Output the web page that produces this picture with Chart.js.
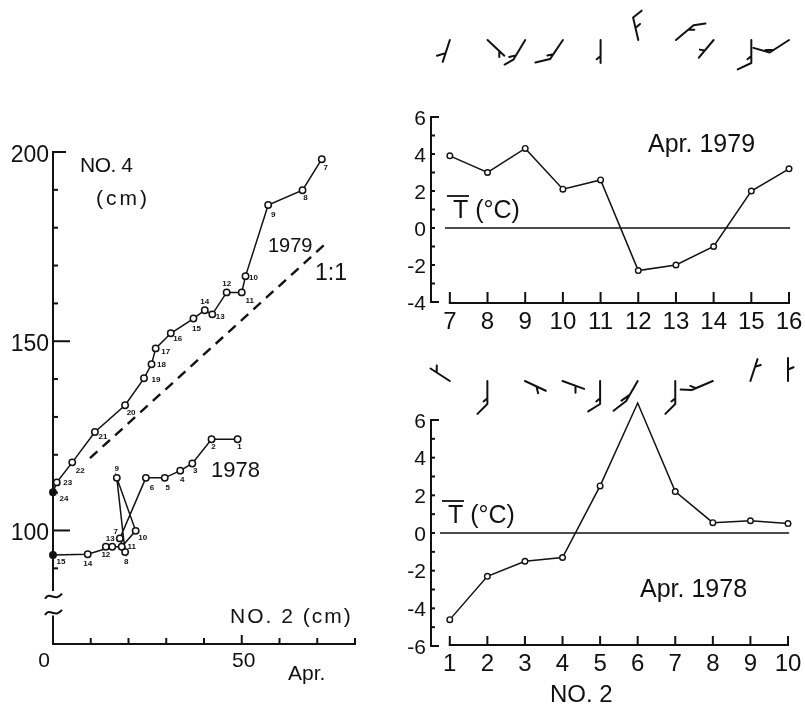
<!DOCTYPE html>
<html>
<head>
<meta charset="utf-8">
<script src="https://cdn.jsdelivr.net/npm/chart.js@4.4.1/dist/chart.umd.min.js"></script>
<style>
body{margin:0;background:#fff;}
#wrap{position:relative;width:805px;height:705px;}
#wrap canvas{position:absolute;left:0;top:0;}
</style>
</head>
<body>
<div id="wrap">
<canvas id="snow" width="805" height="705"></canvas>
<canvas id="t1979" width="805" height="705"></canvas>
<canvas id="t1978" width="805" height="705"></canvas>
</div>
<script>
// snow depth at NO.2 vs NO.4 (cm), points labelled by April day
const days1979 = [7,8,9,10,11,12,13,14,15,16,17,18,19,20,21,22,23,24];
const no2_1979 = [71.2,66.1,57.0,51.0,50.0,46.0,42.2,40.2,37.2,31.2,27.2,26.1,24.1,19.1,11.1,5.1,1.0,0];
const no4_1979 = [198.1,189.9,186.0,167.2,162.9,162.9,157.1,158.2,156.0,152.1,148.1,143.9,140.2,133.1,126.0,118.0,112.7,110.1];

const days1978 = [1,2,3,4,5,6,7,8,9,10,11,12,13,14,15];
const no2_1978 = [48.9,42.0,36.9,33.7,29.6,24.6,17.7,19.1,16.9,21.9,18.2,14.0,15.7,9.2,0];
const no4_1978 = [124.1,124.1,117.7,115.8,113.9,113.9,97.9,94.3,113.9,99.9,95.7,95.7,95.7,93.7,93.5];

const oneToOneX = [9.8, 72.8];
const oneToOneY = [119.1, 176.3];

const snowXLabels = [0, 50];
const snowYLabels = [100, 150, 200];

// daily mean air temperature (deg C)
const tDays1979 = [7,8,9,10,11,12,13,14,15,16];
const tMean1979 = [3.9,3.0,4.3,2.1,2.6,-2.3,-2.0,-1.0,2.0,3.2];
const tDays1978 = [1,2,3,4,5,6,7,8,9,10];
const tMean1978 = [-4.6,-2.3,-1.5,-1.3,2.5,6.9,2.2,0.55,0.65,0.5];
const tTicks1979 = [-4,-2,0,2,4,6];
const tTicks1978 = [-6,-4,-2,0,2,4,6];

// wind barbs per day: shaft angle (deg), and feathers [pos along shaft, length, turn]
const windAngle1979 = [108,43,121,124,90,-103,-40,130,90,147];
const windFeathers1979 = [
  [[0.6,9,55]], [[0.7,6,47]], [[1,10,30],[0.78,7,45]], [[1,15,43],[0.75,6,45]],
  [[0.7,5,50]], [[1,11,64],[0.54,6,62]], [[1,12,32],[0.7,6,40]], [[0.6,5,61]],
  [[1,15,65],[0.7,5,50]], [[1,17,49],[0.8,8,33]]
];
const windAngle1978 = [-147,90,25,20,90,120,90,157,-72,-90];
const windFeathers1978 = [
  [[0.68,7,58]], [[1,14,45],[0.75,5,50]], [[0.55,7,51]], [[0.6,7,70]],
  [[1,14,58],[0.75,5,50]], [[1,16,22],[0.7,10,25]], [[1,14,45],[0.75,5,50]],
  [[1,11,25],[0.8,6,45]], [[0.65,6,55]], [[0.5,6,68]]
];

// label placement next to points (px)
const labelOff1979 = [[4,9],[3,8],[5,10],[8,2],[8,8],[0,-9],[8,2],[0,-8],[3,10],[7,6],[10,3],[10,0],[12,1],[6,8],[8,5],[8,8],[11,0],[11,7]];
const labelOff1978 = [[2,8],[2,8],[3,7],[2,9],[3,10],[6,10],[-4,-7],[1,10],[0,-9],[7,7],[10,0],[0,8],[-2,-8],[0,9],[8,7]];

const FONT = '"Liberation Sans", Arial, sans-serif';
const INK = '#111';

function text(ctx, s, x, y, size, align, spacing, weight) {
  ctx.font = (weight ? weight + ' ' : '') + size + 'px ' + FONT;
  ctx.textAlign = align || 'left';
  ctx.textBaseline = 'alphabetic';
  ctx.letterSpacing = (spacing || 0) + 'px';
  ctx.fillStyle = INK;
  ctx.fillText(s, x, y);
  ctx.letterSpacing = '0px';
}
function seg(ctx, x1, y1, x2, y2) {
  ctx.beginPath(); ctx.moveTo(x1, y1); ctx.lineTo(x2, y2); ctx.stroke();
}
function barb(ctx, x0, y0, ang, feathers) {
  const len = 23;
  const a = ang * Math.PI / 180, ux = Math.cos(a), uy = Math.sin(a);
  ctx.beginPath();
  ctx.moveTo(x0, y0); ctx.lineTo(x0 + ux * len, y0 + uy * len);
  feathers.forEach(f => {
    const bx = x0 + ux * len * f[0], by = y0 + uy * len * f[0];
    const b = a + f[2] * Math.PI / 180;
    ctx.moveTo(bx, by); ctx.lineTo(bx + Math.cos(b) * f[1], by + Math.sin(b) * f[1]);
  });
  ctx.stroke();
}
function pts(xs, ys) { return xs.map((x, i) => ({x: x, y: ys[i]})); }

// ---------------- left: NO.4 vs NO.2 ----------------
const snowPlugin = {
  id: 'snowAxes',
  afterDraw(chart) {
    const ctx = chart.ctx, xs = chart.scales.x, ys = chart.scales.y;
    const x0 = xs.getPixelForValue(0), yb = ys.getPixelForValue(70);
    ctx.save();
    ctx.strokeStyle = INK; ctx.lineWidth = 2;
    // y axis with a break below 90
    seg(ctx, x0, ys.getPixelForValue(200) - 1, x0, ys.getPixelForValue(84));
    seg(ctx, x0, ys.getPixelForValue(77.5), x0, yb + 1);
    [82.5, 78.2].forEach(v => {
      const y = ys.getPixelForValue(v);
      ctx.beginPath(); ctx.moveTo(x0 - 8, y + 2);
      ctx.bezierCurveTo(x0 - 3, y - 6, x0 + 2, y + 6, x0 + 9, y - 3); ctx.stroke();
    });
    for (let v = 90; v <= 200; v += 10) {
      const y = ys.getPixelForValue(v);
      const L = v === 200 ? 13 : (v % 50 === 0 ? 17 : 5);
      seg(ctx, x0, y, x0 + L, y);
    }
    // x axis
    seg(ctx, x0 - 1, yb, xs.getPixelForValue(80) + 1, yb);
    for (let v = 10; v <= 80; v += 10) {
      const x = xs.getPixelForValue(v);
      seg(ctx, x, yb, x, yb - (v === 50 ? 9 : 6));
    }
    snowYLabels.forEach(v => text(ctx, String(v), x0 - 4, ys.getPixelForValue(v) + 10, 23, 'right'));
    snowXLabels.forEach(v => text(ctx, String(v), xs.getPixelForValue(v) + (v === 0 ? -9 : 2), yb + 23, 21, 'center'));
    text(ctx, 'Apr.', 288, 680, 21);
    text(ctx, 'NO. 4', 80, 172, 21, 'left', -0.5);
    text(ctx, '(cm)', 96, 205, 21, 'left', 3);
    text(ctx, '1979', 268, 252, 20);
    text(ctx, '1:1', 315, 280, 23);
    text(ctx, '1978', 211, 477, 22);
    text(ctx, 'NO. 2 (cm)', 230, 623, 21, 'left', 2);
    // day labels beside points
    ctx.font = 'bold 8px ' + FONT; ctx.textAlign = 'center'; ctx.textBaseline = 'middle'; ctx.fillStyle = INK;
    [[0, days1979, labelOff1979], [1, days1978, labelOff1978]].forEach(([di, lab, off]) => {
      chart.getDatasetMeta(di).data.forEach((p, i) => ctx.fillText(String(lab[i]), p.x + off[i][0], p.y + off[i][1]));
    });
    ctx.restore();
  }
};

const fillAtZero = c => (c.raw && c.raw.x === 0) ? INK : '#fff';

new Chart(document.getElementById('snow'), {
  type: 'scatter',
  data: {
    datasets: [
      { label: '1979', data: pts(no2_1979, no4_1979), showLine: true, borderColor: INK, borderWidth: 1.5,
        pointRadius: 3.2, pointBorderWidth: 1.5, pointBorderColor: INK, pointBackgroundColor: fillAtZero, clip: false },
      { label: '1978', data: pts(no2_1978, no4_1978), showLine: true, borderColor: INK, borderWidth: 1.5,
        pointRadius: 3.2, pointBorderWidth: 1.5, pointBorderColor: INK, pointBackgroundColor: fillAtZero, clip: false },
      { label: '1:1', data: pts(oneToOneX, oneToOneY), showLine: true, borderColor: INK, borderWidth: 2.4,
        borderDash: [10, 7], pointRadius: 0, clip: false }
    ]
  },
  options: {
    responsive: false, animation: false,
    layout: { padding: { left: 53, right: 450, top: 152, bottom: 61 } },
    plugins: { legend: { display: false }, tooltip: { enabled: false } },
    scales: {
      x: { type: 'linear', min: 0, max: 80, display: false },
      y: { type: 'linear', min: 70, max: 200, display: false }
    }
  },
  plugins: [snowPlugin]
});

// ---------------- right: mean temperature panels ----------------
function tempChart(id, days, temps, ticks, angles, feathers, o) {
  const plugin = {
    id: 'tAxes' + id,
    afterDraw(chart) {
      const ctx = chart.ctx, xs = chart.scales.x, ys = chart.scales.y;
      const xa = chart.chartArea.left;
      const ytop = ys.getPixelForValue(o.ymax), ybot = ys.getPixelForValue(o.ymin);
      ctx.save();
      ctx.strokeStyle = INK; ctx.lineWidth = 2; ctx.lineCap = 'butt';
      seg(ctx, xa, ytop - 1, xa, ybot + 1);
      for (let v = o.ymin; v <= o.ymax; v++) {
        const y = ys.getPixelForValue(v);
        seg(ctx, xa, y, xa + (v === o.ymin || v === o.ymax ? 8 : 4), y);
      }
      ticks.forEach(v => text(ctx, String(v), xa - 5, ys.getPixelForValue(v) + 7.5, 21, 'right'));
      const xl = xs.getPixelForValue(days[0]), xr = xs.getPixelForValue(days[days.length - 1]);
      seg(ctx, xl - 1, o.axisY, xr + 1, o.axisY);
      days.forEach(d => {
        const x = xs.getPixelForValue(d);
        seg(ctx, x, o.axisY, x, o.axisY - o.tick);
        text(ctx, String(d), x, o.labelY, 24, 'center');
      });
      // T-bar (deg C)
      text(ctx, 'T (°C)', o.tx, o.ty, 25);
      ctx.lineWidth = 1.8;
      seg(ctx, o.tx - 6, o.ty - 22, o.tx + 16, o.ty - 22);
      text(ctx, o.title, o.titleX, o.titleY, 25);
      if (o.foot) text(ctx, o.foot, 550, 702, 24);
      // wind barbs
      ctx.lineWidth = 2; ctx.lineCap = 'round';
      days.forEach((d, i) => barb(ctx, xs.getPixelForValue(d), o.barbY, angles[i], feathers[i]));
      ctx.restore();
    }
  };
  new Chart(document.getElementById(id), {
    type: 'scatter',
    data: {
      datasets: [
        { label: 'T', data: pts(days, temps), showLine: true, borderColor: INK, borderWidth: 1.5,
          pointRadius: 2.8, pointBorderWidth: 1.4, pointBorderColor: INK, pointBackgroundColor: '#fff', clip: false },
        { label: 'zero', data: [{x: o.zeroFrom, y: 0}, {x: days[days.length - 1] + 0.03, y: 0}], showLine: true,
          borderColor: INK, borderWidth: 1.6, pointRadius: 0, clip: false }
      ]
    },
    options: {
      responsive: false, animation: false,
      layout: { padding: o.pad },
      plugins: { legend: { display: false }, tooltip: { enabled: false } },
      scales: {
        x: { type: 'linear', min: o.xmin, max: o.xmax, display: false },
        y: { type: 'linear', min: o.ymin, max: o.ymax, display: false }
      }
    },
    plugins: [plugin]
  });
}

tempChart('t1979', tDays1979, tMean1979, tTicks1979, windAngle1979, windFeathers1979, {
  pad: { left: 431, right: 16, top: 117, bottom: 403 },
  xmin: 6.5, xmax: 16, ymin: -4, ymax: 6, zeroFrom: 6.87,
  axisY: 303, tick: 11, labelY: 329, barbY: 40,
  tx: 453, ty: 218, title: 'Apr. 1979', titleX: 648, titleY: 152
});
tempChart('t1978', tDays1978, tMean1978, tTicks1978, windAngle1978, windFeathers1978, {
  pad: { left: 431, right: 17, top: 420, bottom: 59 },
  xmin: 0.5, xmax: 10, ymin: -6, ymax: 6, zeroFrom: 0.74,
  axisY: 645, tick: 9, labelY: 671, barbY: 381,
  tx: 448, ty: 523, title: 'Apr. 1978', titleX: 640, titleY: 597, foot: 'NO. 2'
});
</script>
</body>
</html>
